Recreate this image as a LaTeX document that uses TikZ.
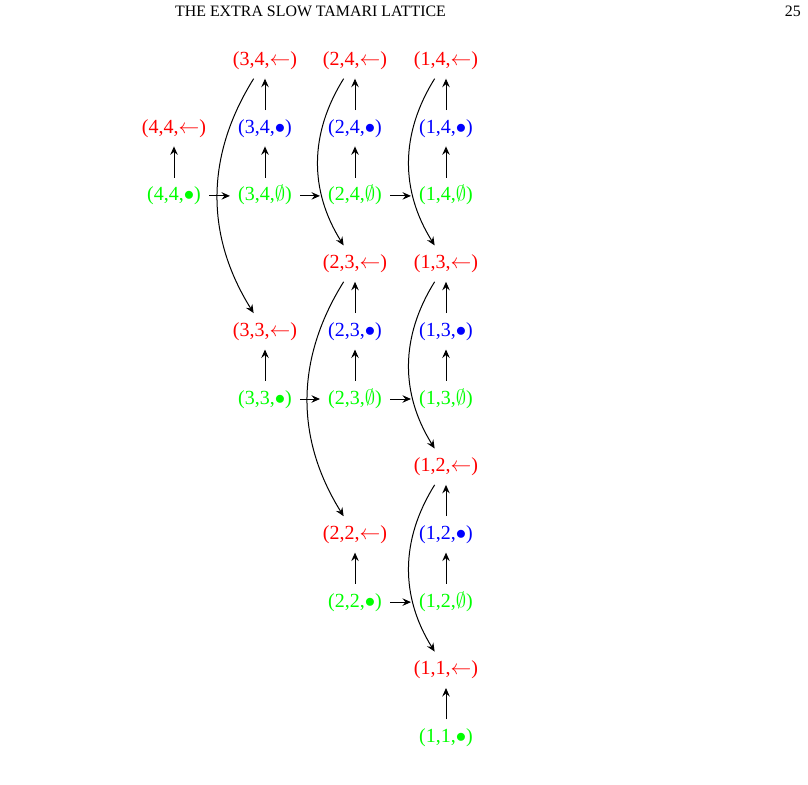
\documentclass[tikz,border=0pt]{standalone}
\usepackage{fontspec}
\setmainfont{Liberation Serif}
\usetikzlibrary{arrows.meta}
\tikzset{
  lbl/.style={font=\fontsize{20}{24}\selectfont, inner xsep=8pt, inner ysep=9pt, text height=14pt, text depth=4pt},
  rn/.style={lbl, text=red},
  bn/.style={lbl, text=blue},
  gn/.style={lbl, text=green},
  hdr/.style={font=\fontsize{15.9}{18}\selectfont, inner sep=0pt, anchor=base},
  arr/.style={-{Stealth[length=8.5pt,width=7.5pt,inset=3pt]}, line width=1pt},
  carr/.style={arr, bend right=32},
}
\begin{document}
\begin{tikzpicture}[x=1pt,y=-1pt]
\useasboundingbox (0,0) rectangle (808,784);
\node[hdr] (title) at (310.5,17) {THE EXTRA SLOW TAMARI LATTICE};
\node[hdr, anchor=base east] (page) at (801,17) {25};
% row 0
\node[rn] (L34) at (265,60.5) {(3,4,$\leftarrow$)};
\node[rn] (L24) at (355,60.5) {(2,4,$\leftarrow$)};
\node[rn] (L14) at (446,60.5) {(1,4,$\leftarrow$)};
% row 1
\node[rn] (L44) at (174,128.2) {(4,4,$\leftarrow$)};
\node[bn] (B34) at (265,128.2) {(3,4,$\bullet$)};
\node[bn] (B24) at (355,128.2) {(2,4,$\bullet$)};
\node[bn] (B14) at (446,128.2) {(1,4,$\bullet$)};
% row 2
\node[gn] (G44) at (174,195.9) {(4,4,$\bullet$)};
\node[gn] (E34) at (265,195.9) {(3,4,$\emptyset$)};
\node[gn] (E24) at (355,195.9) {(2,4,$\emptyset$)};
\node[gn] (E14) at (446,195.9) {(1,4,$\emptyset$)};
% row 3
\node[rn] (L23) at (355,263.6) {(2,3,$\leftarrow$)};
\node[rn] (L13) at (446,263.6) {(1,3,$\leftarrow$)};
% row 4
\node[rn] (L33) at (265,331.3) {(3,3,$\leftarrow$)};
\node[bn] (B23) at (355,331.3) {(2,3,$\bullet$)};
\node[bn] (B13) at (446,331.3) {(1,3,$\bullet$)};
% row 5
\node[gn] (G33) at (265,399) {(3,3,$\bullet$)};
\node[gn] (E23) at (355,399) {(2,3,$\emptyset$)};
\node[gn] (E13) at (446,399) {(1,3,$\emptyset$)};
% row 6
\node[rn] (L12) at (446,466.7) {(1,2,$\leftarrow$)};
% row 7
\node[rn] (L22) at (355,534.4) {(2,2,$\leftarrow$)};
\node[bn] (B12) at (446,534.4) {(1,2,$\bullet$)};
% row 8
\node[gn] (G22) at (355,602.1) {(2,2,$\bullet$)};
\node[gn] (E12) at (446,602.1) {(1,2,$\emptyset$)};
% row 9
\node[rn] (L11) at (446,669.8) {(1,1,$\leftarrow$)};
% row 10
\node[gn] (G11) at (446,737.5) {(1,1,$\bullet$)};
% vertical arrows
\draw[arr] (G44) -- (L44);
\draw[arr] (E34) -- (B34);
\draw[arr] (B34) -- (L34);
\draw[arr] (E24) -- (B24);
\draw[arr] (B24) -- (L24);
\draw[arr] (E14) -- (B14);
\draw[arr] (B14) -- (L14);
\draw[arr] (G33) -- (L33);
\draw[arr] (E23) -- (B23);
\draw[arr] (B23) -- (L23);
\draw[arr] (E13) -- (B13);
\draw[arr] (B13) -- (L13);
\draw[arr] (G22) -- (L22);
\draw[arr] (E12) -- (B12);
\draw[arr] (B12) -- (L12);
\draw[arr] (G11) -- (L11);
% horizontal arrows
\draw[arr] (G44) -- (E34);
\draw[arr] (E34) -- (E24);
\draw[arr] (E24) -- (E14);
\draw[arr] (G33) -- (E23);
\draw[arr] (E23) -- (E13);
\draw[arr] (G22) -- (E12);
% curved arrows
\draw[carr] (L34) to (L33);
\draw[carr] (L24) to (L23);
\draw[carr] (L14) to (L13);
\draw[carr] (L23) to (L22);
\draw[carr] (L13) to (L12);
\draw[carr] (L12) to (L11);
\end{tikzpicture}
\end{document}
